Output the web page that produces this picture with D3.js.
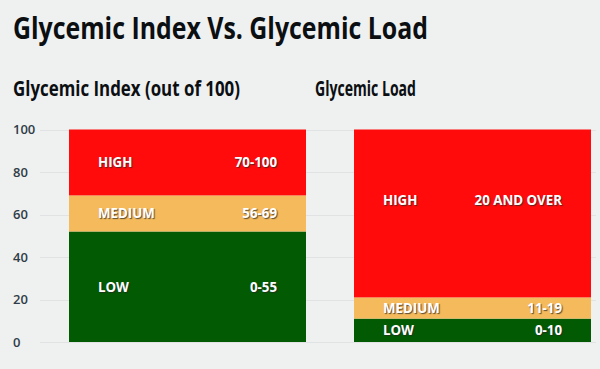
<!DOCTYPE html>
<html><head><meta charset="utf-8">
<script src="https://cdn.jsdelivr.net/npm/d3@7"></script>
<style>
html,body{margin:0;padding:0;background:#eff0f0;}
svg{display:block;}
.seg-label{font-family:"Open Sans",sans-serif;font-weight:700;font-size:13.3px;fill:#fff;text-shadow:1px 1px 1px rgba(40,40,40,0.75);}
</style></head>
<body>
<svg id="chart" width="600" height="369"></svg>
<script>
// ---- data ----
const categories = ["LOW", "MEDIUM", "HIGH"];
const giRanges = ["0-55", "56-69", "70-100"];
const giValues = [52, 17, 31];
const glRanges = ["0-10", "11-19", "20 AND OVER"];
const glValues = [11, 10, 79];
const tickValues = [0, 20, 40, 60, 80, 100];
const title = "Glycemic Index Vs. Glycemic Load";
const panelTitles = ["Glycemic Index (out of 100)", "Glycemic Load"];
const colors = ["#025b02", "#f4ba5b", "#ff0b0b"];

const svg = d3.select("#chart");
svg.append("rect").attr("width", 600).attr("height", 369).attr("fill", "#eff0f0");

const y = d3.scaleLinear().domain([0, 100]).range([342, 129.5]);

// gridlines + tick labels
const grid = svg.append("g");
grid.selectAll("line").data(tickValues).join("line")
  .attr("x1", 40).attr("x2", 596)
  .attr("y1", d => Math.round(y(d)) + 0.5).attr("y2", d => Math.round(y(d)) + 0.5)
  .attr("stroke", "#e0e2e3").attr("stroke-width", 1);
grid.selectAll("text").data(tickValues).join("text")
  .attr("x", 13).attr("y", d => y(d)).attr("dy", "0.36em")
  .attr("font-family", "Open Sans, sans-serif").attr("font-size", 13).attr("font-weight", 600)
  .attr("fill", "#2f3d47").text(d => d);

// titles
svg.append("text").attr("x", 13).attr("y", 39)
  .attr("font-family", "'Liberation Sans Narrow','Open Sans',sans-serif").attr("font-weight", 700)
  .attr("font-size", 31).attr("fill", "#0b0f12")
  .attr("textLength", 415).attr("lengthAdjust", "spacingAndGlyphs").text(title);
const subX = [13, 315], subW = [227, 101];
panelTitles.forEach((t, i) => {
  svg.append("text").attr("x", subX[i]).attr("y", 96)
    .attr("font-family", "'Liberation Sans Narrow','Open Sans',sans-serif").attr("font-weight", 700)
    .attr("font-size", 21).attr("fill", "#0b0f12")
    .attr("textLength", subW[i]).attr("lengthAdjust", "spacingAndGlyphs").text(t);
});

function panel(values, ranges, x0, x1, topLabelValue) {
  let acc = 0;
  const segs = values.map((v, i) => {
    const s = { cat: categories[i], range: ranges[i], y0: acc, y1: acc + v, color: colors[i] };
    acc += v; return s;
  });
  const g = svg.append("g");
  g.selectAll("rect").data(segs).join("rect")
    .attr("x", x0).attr("width", x1 - x0)
    .attr("y", d => y(d.y1)).attr("height", d => y(d.y0) - y(d.y1))
    .attr("fill", d => d.color);
  const ly = (d, i) => (i === segs.length - 1 && topLabelValue != null) ? y(topLabelValue) : (y(d.y0) + y(d.y1)) / 2;
  g.selectAll("text.cat").data(segs).join("text").attr("class", "seg-label cat")
    .attr("x", x0 + 29).attr("y", ly).attr("dy", "0.36em").text(d => d.cat);
  g.selectAll("text.rng").data(segs).join("text").attr("class", "seg-label rng")
    .attr("x", x1 - 29).attr("y", ly).attr("dy", "0.36em").attr("text-anchor", "end").text(d => d.range);
}
panel(giValues, giRanges, 69, 306, null);
panel(glValues, glRanges, 354, 591, 66.5);
</script>
</body></html>
